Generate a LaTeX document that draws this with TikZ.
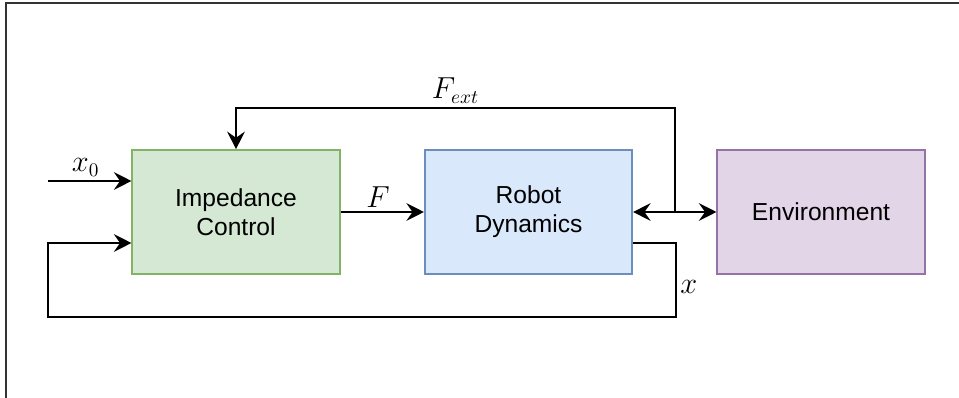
\documentclass[tikz,border=0pt]{standalone}
\usepackage{fontspec}
\newfontfamily\boxfont{Liberation Sans}
\usetikzlibrary{arrows.meta}

\definecolor{ctrlfill}{HTML}{D5E8D4}
\definecolor{ctrldraw}{HTML}{82B366}
\definecolor{robfill}{HTML}{DAE8FC}
\definecolor{robdraw}{HTML}{6C8EBF}
\definecolor{envfill}{HTML}{E1D5E7}
\definecolor{envdraw}{HTML}{9673A6}

\tikzset{
  block/.style={rectangle, draw, line width=0.9pt, minimum width=4.15cm, minimum height=2.48cm,
    align=center, font=\boxfont\fontsize{14}{16.5}\selectfont},
  sig/.style={line width=1.1pt, >={Stealth[length=10pt, width=10pt, inset=3.5pt]}},
  lbl/.style={font=\fontsize{16}{19}\selectfont, inner sep=2pt}
}

\begin{document}
\begin{tikzpicture}[x=0.02cm, y=-0.02cm]
    \useasboundingbox (0,0) rectangle (959,398);
    % frame
    \draw[line width=1.2pt, black!80] (6,398) -- (6,3) -- (959,3);

    % blocks
    \node (IC) [block, fill=ctrlfill, draw=ctrldraw] at (236,212) {Impedance\\Control};
    \node (RD) [block, fill=robfill, draw=robdraw] at (528.5,212) {Robot\\Dynamics};
    \node (EN) [block, fill=envfill, draw=envdraw] at (821,212) {Environment};

    % inputs
    \coordinate (x0in) at (48,181);
    \coordinate (fbin) at (48,243);
    \coordinate (fbout) at (676,243);
    \coordinate (junc) at (675,212);

    \draw[sig, ->] (x0in) -- (IC.west |- x0in) node[lbl, pos=0.45, above] {$x_0$};
    \draw[sig, ->] (IC) -- (RD) node[lbl, pos=0.45, above] {$F$};
    \draw[sig, <->] (RD) -- (EN);

    % force feedback
    \draw[sig, ->] (junc) |- (236,108) node[lbl, pos=0.75, above] {$F_{ext}$} -- (IC.north);

    % position feedback
    \draw[sig, ->] (RD.east |- fbout) -- (fbout) -- (676,317) node[lbl, pos=0.6, right] {$x$}
        -| (fbin) -- (IC.west |- fbin);
\end{tikzpicture}
\end{document}
